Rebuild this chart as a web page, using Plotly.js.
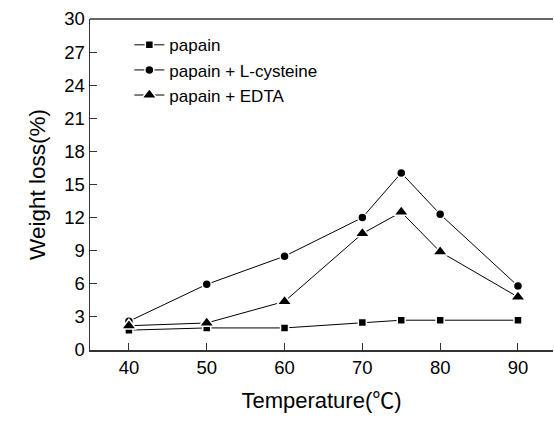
<!DOCTYPE html>
<html>
<head>
<meta charset="utf-8">
<script src="https://cdn.plot.ly/plotly-3.0.1.min.js"></script>
<style>html,body{margin:0;padding:0;background:#fff;}#chart{width:554px;height:428px;}</style>
</head>
<body>
<div id="chart"></div>
<script>
const temperature = [40, 50, 60, 70, 75, 80, 90];
const papain = [1.8, 2.0, 2.0, 2.5, 2.7, 2.7, 2.7];
const papainCysteine = [2.6, 5.95, 8.5, 12.0, 16.05, 12.3, 5.8];
const papainEDTA = [2.2, 2.45, 4.4, 10.55, 12.5, 8.9, 4.8];
const seriesNames = ['papain', 'papain + L-cysteine', 'papain + EDTA'];
const xTicks = [40, 50, 60, 70, 80, 90];
const yTicks = [0, 3, 6, 9, 12, 15, 18, 21, 24, 27, 30];

const font = 'Liberation Sans, Arial, sans-serif';
function trace(y, name, symbol, size) {
  return {
    x: temperature, y: y, name: name, type: 'scatter', mode: 'lines+markers',
    line: {color: '#000', width: 1},
    marker: {symbol: symbol, size: size, color: '#000', line: {color: '#fff', width: 1.5}},
    cliponaxis: false
  };
}
const data = [
  trace(papain, seriesNames[0], 'square', 8),
  trace(papainCysteine, seriesNames[1], 'circle', 9),
  trace(papainEDTA, seriesNames[2], 'triangle-up', 13)
];
const layout = {
  width: 554, height: 428,
  margin: {l: 90, r: 1, t: 19, b: 78},
  paper_bgcolor: '#fff', plot_bgcolor: '#fff',
  font: {family: font, color: '#000', size: 18},
  showlegend: true,
  legend: {x: 0.085, y: 0.975, xanchor: 'left', yanchor: 'top', bgcolor: 'rgba(0,0,0,0)',
           font: {family: font, size: 17, color: '#000'}, tracegroupgap: 0, itemwidth: 30},
  xaxis: {
    range: [35, 94.5], tickvals: xTicks, ticktext: xTicks.map(String),
    ticks: 'inside', ticklen: 7, tickwidth: 1, tickcolor: '#333',
    showline: true, linecolor: '#333', linewidth: 1.5, showgrid: false, zeroline: false,
    tickfont: {family: font, size: 18.5, color: '#000'},
    title: {text: 'Temperature(<span style="font-family:Noto Sans CJK SC">℃</span>)',
            font: {family: font, size: 22, color: '#000'}, standoff: 16}
  },
  yaxis: {
    range: [0, 30], tickvals: yTicks, ticktext: yTicks.map(String),
    ticks: 'inside', ticklen: 7, tickwidth: 1, tickcolor: '#333',
    showline: true, linecolor: '#333', linewidth: 1.5, showgrid: false, zeroline: false,
    tickfont: {family: font, size: 18.5, color: '#000'},
    title: {text: 'Weight loss(%)', font: {family: font, size: 22.5, color: '#000'}, standoff: 12}
  },
  shapes: [{type: 'line', xref: 'paper', yref: 'paper', x0: 0, x1: 1, y0: 1, y1: 1,
            line: {color: '#333', width: 1.5}}]
};
Plotly.newPlot('chart', data, layout, {displayModeBar: false, staticPlot: true});
</script>
</body>
</html>
